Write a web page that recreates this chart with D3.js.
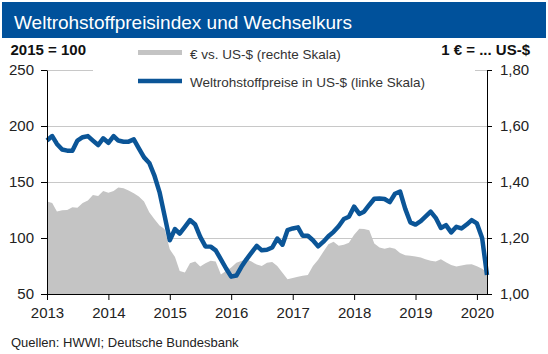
<!DOCTYPE html>
<html>
<head>
<meta charset="utf-8">
<style>
  body { margin: 0; background: #fff; }
  svg text { font-family: Arial, "Liberation Sans", sans-serif; }
  .axis text { font-size: 15px; fill: #222; }
  .axis path, .axis line { stroke: #000; }
  .legend text { font-size: 13.5px; fill: #333; }
</style>
<script src="https://d3js.org/d3.v7.min.js"></script>
</head>
<body>
<svg width="548" height="354"></svg>
<script>
// monthly, Jan 2013 .. Mar 2020
var yearLabels = ["2013", "2014", "2015", "2016", "2017", "2018", "2019", "2020"];
var leftTicks = [50, 100, 150, 200, 250];
var rightTicks = [1.0, 1.2, 1.4, 1.6, 1.8];

// Weltrohstoffpreise in US-$ (2015 = 100), left scale
var rohstoffIndex = [
  187, 191, 184, 179, 178, 178, 187, 190, 191, 187, 183, 189,
  185, 191, 187, 186, 186, 188, 180, 172, 167, 156, 141, 120,
  98, 108, 104, 110, 116, 112, 101, 92.5, 92.3, 89, 81, 73,
  65.5, 66.5, 74, 81, 87, 93, 89, 89.5, 91.5, 99.5, 94, 107,
  108.5, 109.5, 102, 102, 98, 92.5, 96.5, 101.5, 105.5, 110.5, 117, 119,
  128, 121.5, 123.5, 129.5, 135, 135.3, 134.8, 132, 139.5, 141.5, 126, 114,
  112, 115, 119, 123.5, 118, 109, 111.5, 105, 110, 108.5, 112, 116,
  113, 100, 67
];

// EUR vs. US-$, right scale
var eurUsd = [
  1.330, 1.325, 1.295, 1.299, 1.300, 1.310, 1.308, 1.325, 1.334, 1.354, 1.350, 1.368,
  1.362, 1.368, 1.380, 1.378, 1.370, 1.360, 1.348, 1.330, 1.292, 1.268, 1.245, 1.232,
  1.160, 1.132, 1.082, 1.077, 1.110, 1.116, 1.098, 1.110, 1.119, 1.116, 1.070, 1.082,
  1.095, 1.112, 1.118, 1.124, 1.116, 1.105, 1.100, 1.112, 1.114, 1.100, 1.076, 1.053,
  1.057, 1.062, 1.065, 1.068, 1.100, 1.122, 1.150, 1.178, 1.187, 1.172, 1.176, 1.183,
  1.212, 1.233, 1.232, 1.228, 1.180, 1.166, 1.162, 1.166, 1.162, 1.146, 1.138, 1.137,
  1.134, 1.130, 1.124, 1.119, 1.116, 1.124, 1.113, 1.104, 1.098, 1.102, 1.105, 1.106,
  1.099, 1.090, 1.078
];

var months = d3.timeMonths(new Date(2013, 0, 1), new Date(2020, 3, 1));

var svg = d3.select("svg");
var plotL = 47, plotR = 487, plotT = 70, plotB = 294;

var x = d3.scaleTime().domain([months[0], months[months.length - 1]]).range([plotL, plotR]);
var yL = d3.scaleLinear().domain([50, 250]).range([plotB, plotT]);
var yR = d3.scaleLinear().domain([1.0, 1.8]).range([plotB, plotT]);

// title bar
svg.append("rect").attr("x", 2).attr("y", 2).attr("width", 544).attr("height", 36).attr("fill", "#00519b");
svg.append("text").attr("x", 14).attr("y", 29).attr("fill", "#fff")
  .style("font-size", "19px").text("Weltrohstoffpreisindex und Wechselkurs");

// gridlines
svg.append("g").selectAll("line")
  .data(leftTicks.slice(1))
  .enter().append("line")
  .attr("x1", plotL).attr("x2", plotR)
  .attr("y1", function (d) { return yL(d) + 0.5; })
  .attr("y2", function (d) { return yL(d) + 0.5; })
  .attr("stroke", "#c8c8c8");

// EUR area
var area = d3.area()
  .x(function (d, i) { return x(months[i]); })
  .y0(yR(1.0))
  .y1(function (d) { return yR(d); });
svg.append("path").datum(eurUsd).attr("d", area).attr("fill", "#c4c4c4");

// legend box (covers top gridline)
var lg = svg.append("g").attr("class", "legend");
lg.append("rect").attr("x", 93).attr("y", 42).attr("width", 382).attr("height", 52).attr("fill", "#fff");
lg.append("rect").attr("x", 138).attr("y", 50).attr("width", 44).attr("height", 5).attr("fill", "#c4c4c4");
lg.append("text").attr("x", 190).attr("y", 58.5).text("€ vs. US-$ (rechte Skala)");
lg.append("line").attr("x1", 138).attr("x2", 182).attr("y1", 81).attr("y2", 81)
  .attr("stroke", "#0b5597").attr("stroke-width", 4.5);
lg.append("text").attr("x", 190).attr("y", 86.5).text("Weltrohstoffpreise in US-$ (linke Skala)");

// unit labels
svg.append("text").attr("x", 10.5).attr("y", 55).attr("font-weight", "bold")
  .style("font-size", "15px").attr("fill", "#111").text("2015 = 100");
svg.append("text").attr("x", 530).attr("y", 55).attr("font-weight", "bold").attr("text-anchor", "end")
  .style("font-size", "15px").attr("fill", "#111").text("1 € = ... US-$");

// commodity line
var line = d3.line()
  .x(function (d, i) { return x(months[i]); })
  .y(function (d) { return yL(d); });
svg.append("path").datum(rohstoffIndex).attr("d", line)
  .attr("fill", "none").attr("stroke", "#0b5597").attr("stroke-width", 4.5)
  .attr("stroke-linejoin", "round");

// axes
var yearDates = yearLabels.map(function (y) { return new Date(+y, 0, 1); });
svg.append("g").attr("class", "axis").attr("transform", "translate(0," + plotB + ")")
  .call(d3.axisBottom(x).tickValues(yearDates).tickSize(6).tickSizeOuter(0).tickPadding(7)
    .tickFormat(function (d, i) { return yearLabels[i]; }))
  .call(function (g) { g.select(".domain").attr("stroke", "#444"); });

svg.append("g").attr("class", "axis").attr("transform", "translate(" + plotL + ",0)")
  .call(d3.axisLeft(yL).tickValues(leftTicks).tickSize(6).tickSizeOuter(0).tickPadding(7));

svg.append("g").attr("class", "axis").attr("transform", "translate(" + plotR + ",0)")
  .call(d3.axisRight(yR).tickValues(rightTicks).tickSize(5).tickSizeOuter(0).tickPadding(8)
    .tickFormat(function (d) { return d3.format(".2f")(d).replace(".", ","); }));

// source
svg.append("text").attr("x", 11).attr("y", 347).style("font-size", "13px").attr("fill", "#222")
  .text("Quellen: HWWI; Deutsche Bundesbank");
</script>
</body>
</html>
